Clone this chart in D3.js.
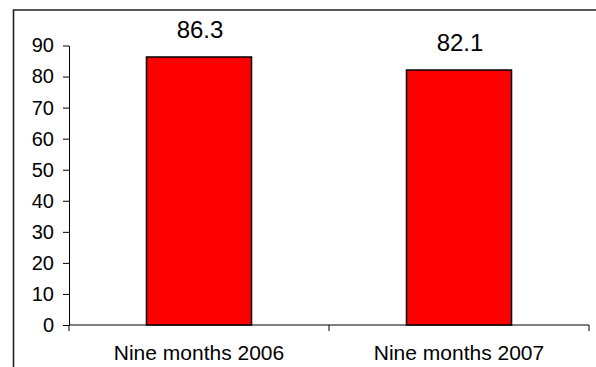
<!DOCTYPE html>
<html>
<head>
<meta charset="utf-8">
<script src="https://cdn.jsdelivr.net/npm/d3@7"></script>
<style>
	html, body {
		margin: 0;
		padding: 0;
		background: #ffffff;
	}

	svg {
		display: block;
	}

	text {
		font-family: "Liberation Sans", Arial, sans-serif;
		fill: #000000;
	}
</style>
</head>
<body>
<div id="chart"></div>
<script>
const categories = ["Nine months 2006", "Nine months 2007"];
const values = [86.3, 82.1];
const yTicks = [0, 10, 20, 30, 40, 50, 60, 70, 80, 90];

const width = 596;
const height = 367;
const plot = {left: 69, right: 589, top: 45.5, bottom: 325};

const svg = d3
	.select("#chart")
	.append("svg")
	.attr("width", width)
	.attr("height", height);

// Outer frame (only top and left edges are visible in the crop)
svg
	.append("path")
	.attr("d", `M13.5,${height}V10H${width}`)
	.attr("fill", "none")
	.attr("stroke", "#222")
	.attr("stroke-width", 1.6);

const x = d3
	.scaleBand()
	.domain(categories)
	.range([plot.left, plot.right]);

const y = d3.scaleLinear().domain([0, 90]).range([plot.bottom, plot.top]);

// Y axis
const yAxis = svg
	.append("g")
	.attr("transform", `translate(${plot.left},0)`)
	.call(d3.axisLeft(y).tickValues(yTicks).tickSize(6).tickPadding(9).tickSizeOuter(0));

yAxis.select(".domain").attr("stroke", "#000");
yAxis.selectAll(".tick line").attr("stroke", "#000");
yAxis.selectAll(".tick text").style("font-size", "20px");

// X axis line and ticks at category boundaries
const xAxis = svg.append("g");

xAxis
	.append("line")
	.attr("x1", plot.left)
	.attr("x2", plot.right)
	.attr("y1", y(0))
	.attr("y2", y(0))
	.attr("stroke", "#000");

xAxis
	.selectAll("line.tick")
	.data(d3.range(categories.length + 1))
	.enter()
	.append("line")
	.attr("class", "tick")
	.attr("x1", (i) => plot.left + i * x.step())
	.attr("x2", (i) => plot.left + i * x.step())
	.attr("y1", y(0))
	.attr("y2", y(0) + 6)
	.attr("stroke", "#000");

xAxis
	.selectAll("text")
	.data(categories)
	.enter()
	.append("text")
	.attr("x", (d) => x(d) + x.bandwidth() / 2)
	.attr("y", y(0) + 35)
	.attr("text-anchor", "middle")
	.style("font-size", "21px")
	.text((d) => d);

// Bars
const barWidth = x.bandwidth() * 0.404;

svg
	.append("g")
	.selectAll("rect")
	.data(values)
	.enter()
	.append("rect")
	.attr("x", (d, i) => x(categories[i]) + (x.bandwidth() - barWidth) / 2)
	.attr("y", (d) => y(d))
	.attr("width", barWidth)
	.attr("height", (d) => y(0) - y(d))
	.attr("fill", "#ff0000")
	.attr("stroke", "#000")
	.attr("stroke-width", 1.5);

// Value labels
svg
	.append("g")
	.selectAll("text")
	.data(values)
	.enter()
	.append("text")
	.attr("x", (d, i) => x(categories[i]) + x.bandwidth() / 2 + 1)
	.attr("y", (d) => y(d) - 19)
	.attr("text-anchor", "middle")
	.style("font-size", "24px")
	.text((d) => d.toFixed(1));
</script>
</body>
</html>
